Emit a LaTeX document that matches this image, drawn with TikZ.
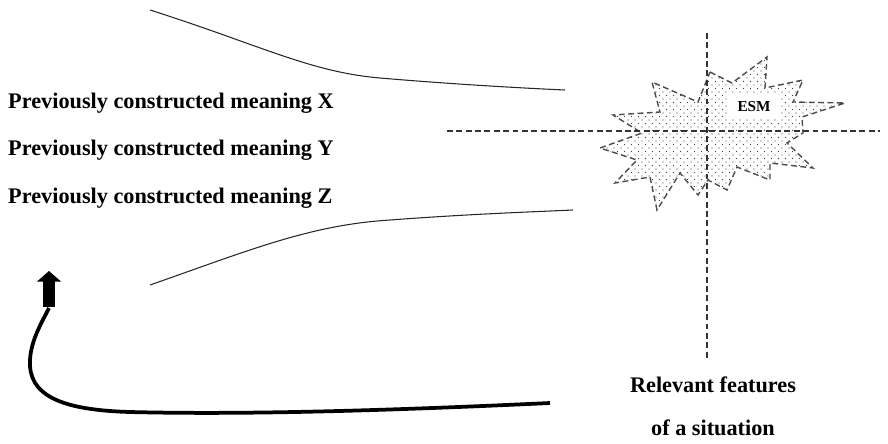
\documentclass[tikz,border=0pt]{standalone}
\usepackage{fontspec}
\setmainfont{Liberation Serif}
\usetikzlibrary{positioning,arrows.meta}

\tikzset{
  meaning/.style={anchor=base west,font=\bfseries\fontsize{19}{22}\selectfont,inner sep=0pt},
  axis/.style={dash pattern=on 5pt off 3pt,line width=1pt,color=black!80},
  funnel/.style={line width=0.9pt,color=black!85}
}

\begin{document}
\begin{tikzpicture}[x=0.03cm,y=-0.03cm]
    \useasboundingbox (0,0) rectangle (888,443);

    % funnel walls
    \draw[funnel] (150,10) .. controls (260,45) and (310,72) .. (380,78) .. controls (450,84) and (520,88) .. (565,90);
    \draw[funnel] (150,285) .. controls (250,250) and (310,225) .. (390,220) .. controls (470,214) and (530,212) .. (573,210);

    \node[meaning] (mx) at (8,108) {Previously constructed meaning X};
    \node[meaning] (my) at (8,155) {Previously constructed meaning Y};
    \node[meaning] (mz) at (8,203) {Previously constructed meaning Z};

    % the star, dotted inside
    \def\starpath{(710,72) -- (732,83) -- (767,57) -- (765,88) -- (803,80) -- (793,102) -- (845,103) -- (802,117)
      -- (803,133) -- (787,143) -- (813,168) -- (770,163) -- (770,180) -- (737,167) -- (727,190)
      -- (708,180) -- (698,195) -- (680,173) -- (657,210) -- (650,177) -- (615,183) -- (637,160)
      -- (600,148) -- (642,133) -- (613,115) -- (660,112) -- (652,82) -- (698,102) -- cycle}
    \begin{scope}
      \clip \starpath;
      \foreach \i in {0,...,35}
        \foreach \j in {0,...,22}
          \fill[black!75] (600+7*\i,57+7*\j) circle (0.55pt) (603.5+7*\i,60.5+7*\j) circle (0.55pt);
    \end{scope}
    \draw[dash pattern=on 5pt off 3pt,line width=1.2pt,color=black!70] \starpath;

    \draw[axis] (707,33) -- (707,360);
    \draw[axis] (447,131) -- (880,131);

    \node[fill=white,font=\bfseries\fontsize{13}{15}\selectfont,inner xsep=7pt,inner ysep=6pt] (esm) at (754,107) {ESM};

    \node[anchor=base,align=center,font=\bfseries\fontsize{19}{22}\selectfont,inner sep=0pt] (feat) at (713,435)
      {Relevant features\\[14pt] of a situation};

    % feedback arrow
    \coordinate (start) at (550,403);
    \coordinate (tail) at (49,308);
    \coordinate (tip) at (49,271);
    \draw[line width=3.2pt] (start) .. controls (400,410) and (250,415) .. (130,412)
      .. controls (60,410) and (28,395) .. (30,360) .. controls (31,340) and (42,322) .. (tail);
    \draw[line width=10pt,-{Triangle[width=20pt,length=9pt]}] ([yshift=1pt]tail) -- (tip);
\end{tikzpicture}
\end{document}
